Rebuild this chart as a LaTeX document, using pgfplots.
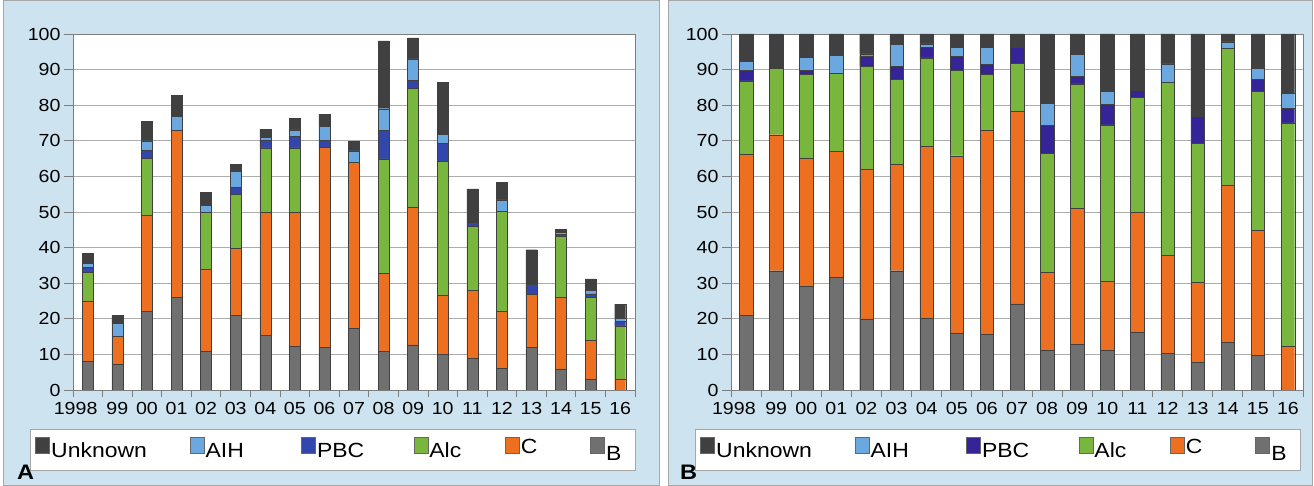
\documentclass[border=0pt]{standalone}
\usepackage{fontspec}
\setmainfont{Liberation Sans}[FakeStretch=1.12]
\usepackage{pgfplots}
\usepackage{pgfplotstable}
\pgfplotsset{compat=1.18}
\definecolor{bgblue}{RGB}{205,228,240}
\definecolor{cUnk}{RGB}{64,64,64}
\definecolor{cAIH}{RGB}{108,168,224}
\definecolor{cPBCa}{RGB}{50,70,172}
\definecolor{cPBCb}{RGB}{52,36,152}
\definecolor{cAlc}{RGB}{120,182,62}
\definecolor{cC}{RGB}{236,112,32}
\definecolor{cB}{RGB}{112,112,112}
\definecolor{axgray}{RGB}{125,125,125}

\pgfplotstableread{
x B C Alc PBC AIH Unk
0 8 17 8 1.5 1 2.9
1 7.3 7.7 0 0 3.7 2.2
2 22 27 16 2.3 2.7 5.4
3 26 47 0 0 3.8 5.9
4 10.8 23.2 16 0 1.9 3.6
5 21 18.8 15.1 2.1 4.4 2
6 15.3 34.7 18 2.3 0.7 2.3
7 12.2 37.8 18 3.2 1.9 3.3
8 12 56.1 0 2 3.9 3.5
9 17.3 46.6 0 0 3.3 2.6
10 10.8 22 32.1 8 6.1 19.1
11 12.7 38.7 33.4 2.2 6 5.9
12 10.1 16.6 37.5 5 2.7 14.5
13 8.9 19 18 1.1 0 9.5
14 6.1 15.9 28.1 0 3.3 4.9
15 11.9 15 0 2.8 0 9.7
16 5.9 20.1 17.1 0.6 0.6 0.9
17 3 11 12 1 1 3.2
18 0 3.1 14.9 1.2 0.9 4
}\tabA

\pgfplotstableread{
x B C Alc PBC AIH Unk
0 21 45.1 20.7 2.9 2.7 7.6
1 33.5 38.2 18.7 0 0 9.6
2 29.2 35.9 23.5 1.1 3.7 6.6
3 31.7 35.3 22 0 5 6
4 20 42.1 28.8 3 0.5 5.6
5 33.5 30 23.7 3.7 6.1 3
6 20.2 48.2 24.9 3 0.9 2.8
7 15.9 49.9 23.9 4 2.6 3.7
8 15.7 57.2 15.7 2.8 4.9 3.7
9 24.2 54.1 13.4 4.6 0 3.7
10 11.2 21.9 33.3 7.9 6.3 19.4
11 12.9 38.2 34.9 2.1 6.1 5.8
12 11.2 19.4 43.9 5.8 3.6 16.1
13 16.1 33.8 32.3 1.9 0 15.9
14 10.3 27.5 48.7 0 5.1 8.4
15 7.7 22.5 39 7.8 0 23
16 13.3 44.3 38.3 0 1.9 2.2
17 9.8 35.2 38.9 3.3 3.1 9.7
18 0 12.2 62.8 4.2 4.2 16.6
}\tabB

\pgfplotsset{
  sq/.style={legend image code/.code={\draw[##1,draw=black!60,line width=0.4bp] (0bp,-1bp) rectangle (14bp,15bp);}},
  common/.style={
    scale only axis, anchor=south west, height=356bp,
    ybar stacked, ymin=0, ymax=100, xmin=-0.5, xmax=18.5,
    xtick={0,...,18},
    xticklabels={\makebox[1.1em][r]{1998},99,00,01,02,03,04,05,06,07,08,09,10,11,12,13,14,15,16},
    minor xtick={-0.5,0.5,...,18.5},
    ytick={0,10,...,100},
    tick align=outside, xtick pos=left, ytick pos=left,
    major tick length=9bp, minor tick length=7bp,
    major x tick style={draw=none},
    minor x tick style={draw=axgray, line width=0.8bp},
    major y tick style={draw=axgray, line width=0.8bp},
    ymajorgrids, grid style={draw=gray!65, line width=0.8bp},
    axis line style={draw=axgray, line width=0.8bp},
    axis background/.style={fill=white},
    tick label style={font=\fontsize{17.5bp}{20bp}\selectfont},
    /pgf/number format/assume math mode=true,
    legend columns=6, reverse legend,
    legend style={anchor=north west, draw=gray!70, fill=white, line width=0.6bp,
      inner xsep=5bp, inner ysep=7.5bp, column sep=0bp,
      font=\fontsize{20.5bp}{24bp}\selectfont,
      nodes={inner sep=1.5bp, text height=15bp, text depth=4bp}},
    every axis plot/.append style={draw=black!75, line width=0.4bp},
  }
}

\begin{document}
\begin{tikzpicture}[x=1bp,y=1bp]
\path (0,0) rectangle (1314,486);
\filldraw[fill=bgblue, draw=gray!70, line width=0.8bp] (3.5,0.5) rectangle (659,485.5);
\filldraw[fill=bgblue, draw=gray!70, line width=0.8bp] (668,0.5) rectangle (1312.5,485.5);

\begin{axis}[common, at={(73bp,96bp)}, width=562bp, bar width=11bp,
  legend style={at={(axis description cs:-0.0765,-0.1096)}}]
\addplot[fill=cB, sq] table[x=x,y=B]{\tabA};
\addlegendentry{\makebox[23bp][l]{\raisebox{-3bp}{B}}}
\addplot[fill=cC, sq] table[x=x,y=C]{\tabA};
\addlegendentry{\makebox[68bp][l]{\raisebox{4bp}{C}}}
\addplot[fill=cAlc, sq] table[x=x,y=Alc]{\tabA};
\addlegendentry{\makebox[74bp][l]{Alc}}
\addplot[fill=cPBCa, sq] table[x=x,y=PBC]{\tabA};
\addlegendentry{\makebox[95bp][l]{PBC}}
\addplot[fill=cAIH, sq] table[x=x,y=AIH]{\tabA};
\addlegendentry{\makebox[94bp][l]{AIH}}
\addplot[fill=cUnk, sq] table[x=x,y=Unk]{\tabA};
\addlegendentry{\makebox[137bp][l]{Unknown}}
\end{axis}

\begin{axis}[common, at={(731bp,96bp)}, width=572bp, bar width=13.5bp,
  legend style={at={(axis description cs:-0.0629,-0.1096)}}]
\addplot[fill=cB, sq] table[x=x,y=B]{\tabB};
\addlegendentry{\makebox[23bp][l]{\raisebox{-3bp}{B}}}
\addplot[fill=cC, sq] table[x=x,y=C]{\tabB};
\addlegendentry{\makebox[68bp][l]{\raisebox{4bp}{C}}}
\addplot[fill=cAlc, sq] table[x=x,y=Alc]{\tabB};
\addlegendentry{\makebox[74bp][l]{Alc}}
\addplot[fill=cPBCb, sq] table[x=x,y=PBC]{\tabB};
\addlegendentry{\makebox[95bp][l]{PBC}}
\addplot[fill=cAIH, sq] table[x=x,y=AIH]{\tabB};
\addlegendentry{\makebox[94bp][l]{AIH}}
\addplot[fill=cUnk, sq] table[x=x,y=Unk]{\tabB};
\addlegendentry{\makebox[137bp][l]{Unknown}}
\end{axis}

\node[font=\bfseries\fontsize{21bp}{24bp}\selectfont, anchor=base west, inner sep=0pt] at (17,6) {A};
\node[font=\bfseries\fontsize{21bp}{24bp}\selectfont, anchor=base west, inner sep=0pt] at (680,6) {B};
\end{tikzpicture}
\end{document}
